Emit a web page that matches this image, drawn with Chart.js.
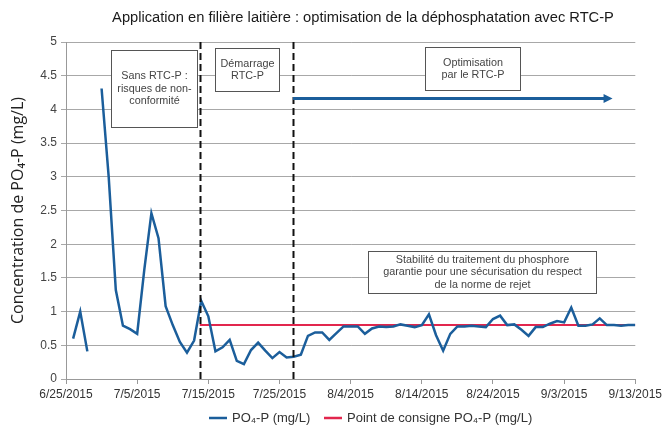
<!DOCTYPE html>
<html>
<head>
<meta charset="utf-8">
<script src="https://cdn.jsdelivr.net/npm/chart.js@4/dist/chart.umd.min.js"></script>
<style>
  html, body { margin: 0; padding: 0; background: #fff; }
  #wrap { width: 665px; height: 425px; }
</style>
</head>
<body>
<div id="wrap"><canvas id="myChart" width="665" height="425"></canvas></div>
<script>
// Libellés des graduations (tous les 10 jours à partir du 25/06/2015)
const tickLabels = ['6/25/2015', '7/5/2015', '7/15/2015', '7/25/2015', '8/4/2015',
                    '8/14/2015', '8/24/2015', '9/3/2015', '9/13/2015'];

// Mesures journalières de PO4-P (mg/L), premier jour = 26/06/2015 (jour 1)
const firstDay = 1;
const po4Values = [
    0.60, 1.00, 0.41, null, 4.31, 3.00, 1.32, 0.79, 0.74, 0.67,
    1.62, 2.46, 2.09, 1.08, 0.80, 0.55, 0.39, 0.57, 1.16, 0.93,
    0.41, 0.47, 0.58, 0.27, 0.22, 0.43, 0.54, 0.42, 0.31, 0.40,
    0.32, 0.33, 0.36, 0.64, 0.69, 0.69, 0.58, 0.68, 0.78, 0.78,
    0.78, 0.67, 0.75, 0.78, 0.77, 0.78, 0.81, 0.79, 0.77, 0.80,
    0.96, 0.65, 0.42, 0.67, 0.78, 0.78, 0.79, 0.78, 0.77, 0.89,
    0.94, 0.80, 0.81, 0.73, 0.64, 0.77, 0.77, 0.82, 0.86, 0.84,
    1.06, 0.79, 0.79, 0.81, 0.90, 0.80, 0.80, 0.79, 0.80, 0.80
];

// Point de consigne
const setpointDays = [18.8, 80];
const setpointValues = [0.8, 0.8];

// Repères verticaux (démarrage et optimisation du RTC-P)
const markerDays = [18.8, 31.9];

const blue = '#1b5e9b';
const red = '#e2264d';

// Encadrés de texte : [jour début, jour fin, y haut, y bas, lignes]
const notes = [
    { x0: 6.27, x1: 18.34, y0: 4.88, y1: 3.74, lines: ['Sans RTC-P :', 'risques de non-', 'conformité'] },
    { x0: 20.9, x1: 29.9, y0: 4.91, y1: 4.27, lines: ['Démarrage', 'RTC-P'] },
    { x0: 50.4, x1: 63.8, y0: 4.92, y1: 4.29, lines: ['Optimisation', 'par le RTC-P'] },
    { x0: 42.5, x1: 74.5, y0: 1.90, y1: 1.28, lines: ['Stabilité du traitement du phosphore',
        'garantie pour une sécurisation du respect', 'de la norme de rejet'] }
];

// Flèche "optimisation"
const arrow = { x0: 31.9, x1: 76.8, y: 4.16 };

const po4Points = po4Values.map((v, i) => ({ x: firstDay + i, y: v }));
const setpointPoints = setpointDays.map((d, i) => ({ x: d, y: setpointValues[i] }));

// Plugin pour les annotations, le titre et la légende
const decorations = {
    id: 'decorations',
    afterDatasetsDraw(chart) {
        const c = chart.ctx;
        const xs = chart.scales.x;
        const ys = chart.scales.y;
        const area = chart.chartArea;

        // lignes verticales en pointillés
        c.save();
        c.strokeStyle = '#111';
        c.lineWidth = 2;
        c.setLineDash([7, 4]);
        markerDays.forEach(d => {
            const px = Math.round(xs.getPixelForValue(d)) + 0.5;
            c.beginPath();
            c.moveTo(px, area.top);
            c.lineTo(px, area.bottom);
            c.stroke();
        });
        c.restore();

        // flèche
        c.save();
        const ay = ys.getPixelForValue(arrow.y);
        const ax0 = xs.getPixelForValue(arrow.x0);
        const ax1 = xs.getPixelForValue(arrow.x1);
        c.strokeStyle = blue;
        c.fillStyle = blue;
        c.lineWidth = 3;
        c.beginPath();
        c.moveTo(ax0, ay);
        c.lineTo(ax1 - 8, ay);
        c.stroke();
        c.beginPath();
        c.moveTo(ax1, ay);
        c.lineTo(ax1 - 9, ay - 4.5);
        c.lineTo(ax1 - 9, ay + 4.5);
        c.closePath();
        c.fill();
        c.restore();

        // encadrés
        c.save();
        c.font = '10.8px "Liberation Sans", Arial, sans-serif';
        c.textAlign = 'center';
        c.textBaseline = 'middle';
        notes.forEach(n => {
            const l = Math.round(xs.getPixelForValue(n.x0)) + 0.5;
            const r = Math.round(xs.getPixelForValue(n.x1)) + 0.5;
            const t = Math.round(ys.getPixelForValue(n.y0)) + 0.5;
            const b = Math.round(ys.getPixelForValue(n.y1)) + 0.5;
            c.fillStyle = '#fff';
            c.fillRect(l, t, r - l, b - t);
            c.strokeStyle = '#555';
            c.lineWidth = 1;
            c.strokeRect(l, t, r - l, b - t);
            c.fillStyle = '#444';
            const lh = 12.5;
            const cy = (t + b) / 2 - (n.lines.length - 1) * lh / 2;
            n.lines.forEach((txt, i) => c.fillText(txt, (l + r) / 2, cy + i * lh));
        });
        c.restore();
    },
    afterDraw(chart) {
        const c = chart.ctx;
        c.save();
        // titre
        c.fillStyle = '#1a1a1a';
        c.font = '14.7px "Liberation Sans", Arial, sans-serif';
        c.textAlign = 'center';
        c.textBaseline = 'middle';
        c.fillText('Application en filière laitière : optimisation de la déphosphatation avec RTC-P', 363, 18);

        // légende
        c.font = '13px "Liberation Sans", Arial, sans-serif';
        c.textAlign = 'left';
        const ly = 418;
        const items = [
            { color: blue, text: 'PO₄-P (mg/L)', x: 209 },
            { color: red, text: 'Point de consigne PO₄-P (mg/L)', x: 324 }
        ];
        items.forEach(it => {
            c.strokeStyle = it.color;
            c.lineWidth = 2.5;
            c.beginPath();
            c.moveTo(it.x, ly);
            c.lineTo(it.x + 18, ly);
            c.stroke();
            c.fillStyle = '#333';
            c.fillText(it.text, it.x + 23, ly);
        });
        c.restore();
    }
};

let ctx = document.getElementById('myChart').getContext('2d');
let myChart = new Chart(ctx, {
    type: 'line',
    data: {
        datasets: [{
            label: 'PO₄-P (mg/L)',
            data: po4Points,
            borderColor: blue,
            backgroundColor: blue,
            borderWidth: 2.5,
            pointRadius: 0,
            tension: 0,
            spanGaps: false
        }, {
            label: 'Point de consigne PO₄-P (mg/L)',
            data: setpointPoints,
            borderColor: red,
            backgroundColor: red,
            borderWidth: 2,
            pointRadius: 0
        }]
    },
    options: {
        responsive: false,
        animation: false,
        layout: { padding: { left: 0, top: 42, right: 29, bottom: 26 } },
        plugins: {
            legend: { display: false },
            title: { display: false },
            tooltip: { enabled: false }
        },
        scales: {
            x: {
                type: 'linear',
                min: 0,
                max: 80,
                afterFit(scale) { scale.height = 20; },
                ticks: {
                    stepSize: 10,
                    autoSkip: false,
                    maxRotation: 0,
                    padding: 3,
                    color: '#333',
                    font: { family: '"Liberation Sans", Arial, sans-serif', size: 12 },
                    callback: (v) => tickLabels[Math.round(v / 10)]
                },
                grid: { drawOnChartArea: false, drawTicks: true, tickLength: 5, color: '#999' },
                border: { color: '#999' }
            },
            y: {
                min: 0,
                max: 5,
                afterFit(scale) { scale.width = 66; },
                ticks: {
                    stepSize: 0.5,
                    padding: 4,
                    color: '#444',
                    font: { family: '"Liberation Sans", Arial, sans-serif', size: 12 },
                    callback: (v) => String(Math.round(v * 10) / 10)
                },
                grid: { color: '#a8a8a8', lineWidth: 1, tickLength: 5 },
                border: { color: '#999' },
                title: {
                    display: true,
                    text: 'Concentration de PO₄-P (mg/L)',
                    color: '#222',
                    padding: { top: 9, bottom: 0 },
                    font: { family: '"Open Sans", sans-serif', size: 16 }
                }
            }
        }
    },
    plugins: [decorations]
});
</script>
</body>
</html>
